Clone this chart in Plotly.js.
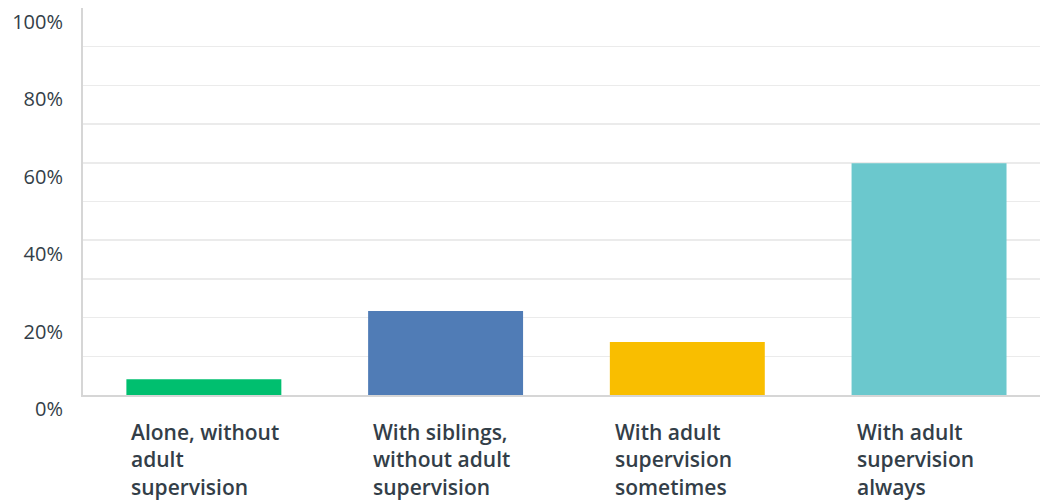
<!DOCTYPE html>
<html><head><meta charset="utf-8">
<script src="https://cdn.plot.ly/plotly-3.0.1.min.js"></script>
<style>html,body{margin:0;padding:0;background:#fff}#chart{width:1040px;height:502px}</style>
</head><body><div id="chart"></div>
<script>
const categories = ["Alone, without\nadult\nsupervision", "With siblings,\nwithout adult\nsupervision", "With adult\nsupervision\nsometimes", "With adult\nsupervision\nalways"];
const values = [4.1, 21.7, 13.7, 59.9];
const barColors = ["#00bf6f", "#507cb6", "#f9be00", "#6bc8cd"];
const tickVals = [0, 20, 40, 60, 80, 100];
const tickText = ["0%", "20%", "40%", "60%", "80%", "100%"];

const bargap = 0.359;
const textColor = "#333e48";
const idx = categories.map((c, i) => i);

const trace = {
  type: "bar",
  x: idx,
  y: values,
  marker: {color: barColors, line: {width: 0}},
  hoverinfo: "skip"
};

const annotations = categories.map((c, i) => ({
  x: i - (1 - bargap) / 2, xref: "x", xanchor: "left", xshift: 3,
  y: 0, yref: "y", yanchor: "top", yshift: -21,
  text: c.split("\n").join("<br>"), align: "left", showarrow: false,
  font: {family: "Open Sans", size: 21, weight: 600, color: textColor}
}));

const layout = {
  width: 1040, height: 502,
  margin: {l: 83, r: 0, t: 8, b: 107, pad: 0},
  paper_bgcolor: "#fff", plot_bgcolor: "#fff",
  showlegend: false,
  bargap: bargap,
  xaxis: {range: [-0.5, 3.459], showticklabels: false, showgrid: false, zeroline: false,
          showline: true, linecolor: "#d6d6d6", linewidth: 2, ticks: "", fixedrange: true},
  yaxis: {range: [0, 100], tickvals: tickVals, ticktext: tickText, showgrid: true,
          gridcolor: "#ebebeb", gridwidth: 1.5, zeroline: false, showline: true,
          linecolor: "#d6d6d6", linewidth: 2, ticks: "",
          ticklabelposition: "outside bottom", ticklabelstandoff: 14,
          minor: {dtick: 10, showgrid: true, gridcolor: "#ebebeb", gridwidth: 1.5},
          tickfont: {family: "Open Sans", size: 20, weight: 500, color: textColor}},
  annotations: annotations
};

Plotly.newPlot("chart", [trace], layout, {staticPlot: true, displayModeBar: false});
</script></body></html>
